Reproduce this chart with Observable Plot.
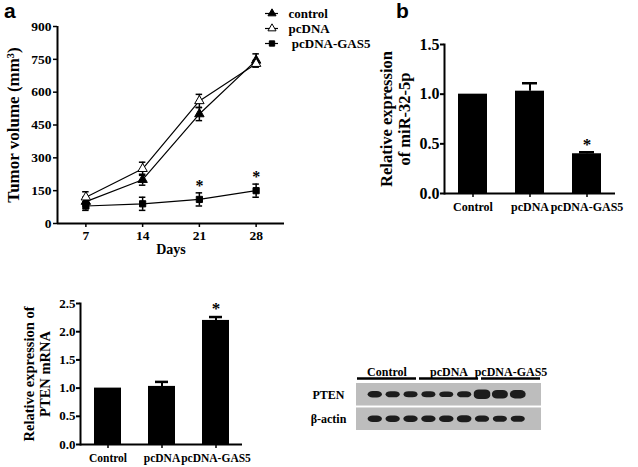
<!DOCTYPE html>
<html><head><meta charset="utf-8">
<script src="https://cdn.jsdelivr.net/npm/d3@7"></script>
<script src="https://cdn.jsdelivr.net/npm/@observablehq/plot@0.6"></script>
<style>
body{margin:0;background:#fff;}
#fig{position:relative;width:638px;height:467px;overflow:hidden;background:#fff;}
#fig svg{position:absolute;left:0;top:0;}
.panel{position:absolute;font-family:"Liberation Sans",Arial,sans-serif;font-weight:bold;font-size:21px;line-height:1;}
</style></head><body>
<div id="fig"><div class="panel" style="left:4px;top:0px">a</div><div class="panel" style="left:396px;top:0px">b</div></div>
<script>
// ---------- data ----------
const days = [7, 14, 21, 28];
const series = ["control", "pcDNA", "pcDNA-GAS5"];
const controlVol = [100, 200, 500, 745];
const controlErr = [20, 25, 30, 30];
const pcdnaVol = [120, 250, 560, 730];
const pcdnaErr = [25, 30, 30, 15];
const gas5Vol = [80, 90, 110, 150];
const gas5Err = [20, 30, 30, 30];
const volTicks = [0, 150, 300, 450, 600, 750, 900];
const starDays = [21, 28];

const categories = ["Control", "pcDNA", "pcDNA-GAS5"];
const mirValues = [1.0, 1.03, 0.40];
const mirErrors = [0, 0.08, 0.015];
const mirTicks = [0, 0.5, 1.0, 1.5];
const mirStar = ["pcDNA-GAS5"];

const ptenValues = [1.0, 1.03, 2.20];
const ptenErrors = [0, 0.08, 0.06];
const ptenTicks = [0, 0.5, 1.0, 1.5, 2.0, 2.5];
const ptenStar = ["pcDNA-GAS5"];

const blotRows = ["PTEN", "β-actin"];
const blotGroups = ["Control", "pcDNA", "pcDNA-GAS5"];
const ptenBand = [1.0, 0.97, 0.92, 0.92, 0.9, 0.97, 1.5, 1.35, 1.3];
const actinBand = [1.0, 1.0, 1.0, 1.0, 1.05, 1.08, 0.98, 0.95, 0.95];

// ---------- helpers ----------
const W = 638, H = 467;
const fig = document.getElementById("fig");
const base = {
  width: W, height: H,
  style: {background: "transparent", fontFamily: '"Liberation Serif", "Times New Roman", serif', fontWeight: "bold", color: "black", overflow: "visible"}
};
function place(p) { fig.appendChild(p); }

// ---------- panel a ----------
const rowsA = [];
[[controlVol, controlErr], [pcdnaVol, pcdnaErr], [gas5Vol, gas5Err]].forEach(([v, e], si) =>
  days.forEach((d, i) => rowsA.push({series: series[si], day: d, v: v[i], e: e[i]})));
const xDomA = [3.5, 31.5];
const symbolScale = {domain: series, range: ["triangle", "triangle", "square"]};

place(Plot.plot({
  ...base,
  marginLeft: 57, marginTop: 26, marginRight: W - 284, marginBottom: H - 223,
  x: {domain: xDomA}, y: {domain: [0, 900]},
  symbol: symbolScale,
  marks: [
    Plot.ruleX([xDomA[0]], {y1: 0, y2: 900, strokeWidth: 2}),
    Plot.ruleY([0], {x1: xDomA[0], x2: xDomA[1], strokeWidth: 2}),
    Plot.axisY({ticks: volTicks, tickSize: 4, tickPadding: 2, fontSize: 13.5, label: null, strokeWidth: 1.5}),
    Plot.axisX({ticks: days, tickSize: 4, tickPadding: 3, fontSize: 13.5, label: null, strokeWidth: 1.5}),
    Plot.lineY(rowsA, {x: "day", y: "v", z: "series", stroke: "black", strokeWidth: 1.2}),
    Plot.ruleX(rowsA, {x: "day", y1: d => d.v - d.e, y2: d => d.v + d.e, strokeWidth: 1.5}),
    Plot.ruleY(rowsA, {y: d => d.v + d.e, x1: d => d.day - 0.4, x2: d => d.day + 0.4, strokeWidth: 1.5}),
    Plot.ruleY(rowsA, {y: d => d.v - d.e, x1: d => d.day - 0.4, x2: d => d.day + 0.4, strokeWidth: 1.5}),
    Plot.dot(rowsA, {x: "day", y: "v", symbol: "series", r: 3.5, fill: d => d.series === "pcDNA" ? "white" : "black", stroke: "black", strokeWidth: 1}),
    Plot.text(rowsA.filter(d => d.series === "pcDNA-GAS5" && starDays.includes(d.day)), {x: "day", y: d => d.v + d.e, text: () => "*", dy: -7, fontSize: 16}),
    Plot.text(["Tumor volume (mm³)"], {frameAnchor: "left", textAnchor: "middle", rotate: -90, dx: -44, fontSize: 17}),
    Plot.text(["Days"], {frameAnchor: "bottom", dy: 30, fontSize: 14})
  ]
}));

// legend for panel a
place(Plot.plot({
  ...base,
  margin: 0,
  x: {domain: [0, 1], range: [265, 278], axis: null},
  y: {type: "point", domain: series, range: [13, 43], padding: 0, axis: null},
  symbol: symbolScale,
  marks: [
    Plot.ruleY(series, {y: d => d, x1: 0, x2: 1, strokeWidth: 1.2}),
    Plot.dot(series, {x: () => 0.5, y: d => d, symbol: d => d, r: 3, fill: d => d === "pcDNA" ? "white" : "black", stroke: "black", strokeWidth: 1}),
    Plot.text(series, {x: () => 1, y: d => d, text: d => d === "pcDNA-GAS5" ? "\u00a0" + d : d, dx: 10, textAnchor: "start", fontSize: 13})
  ]
}));

// ---------- bar panels ----------
function barPanel({values, errors, ticks, stars, left, right, top, bottom, tickFont, catFont, labelFont, label, labelDx}) {
  const rows = categories.map((c, i) => ({cat: c, v: values[i], e: errors[i]}));
  const withErr = rows.filter(d => d.e > 0);
  const yMax = ticks[ticks.length - 1];
  return Plot.plot({
    ...base,
    marginLeft: left, marginRight: W - right, marginTop: top, marginBottom: H - bottom,
    x: {type: "band", domain: categories, paddingInner: 0.5, paddingOuter: 0.25},
    y: {domain: [0, yMax]},
    marks: [
      Plot.barY(rows, {x: "cat", y: "v", fill: "black"}),
      Plot.ruleX(withErr, {x: "cat", y1: "v", y2: d => d.v + d.e, strokeWidth: 2}),
      Plot.tickY(withErr, {x: "cat", y: d => d.v + d.e, strokeWidth: 2.5, insetLeft: 7, insetRight: 7}),
      Plot.frame({anchor: "left", strokeWidth: 2}),
      Plot.ruleY([0], {strokeWidth: 2}),
      Plot.axisY({ticks, tickFormat: d3.format(".1f"), tickSize: 4, tickPadding: 1, fontSize: tickFont, label: null, strokeWidth: 2}),
      Plot.axisX({tickSize: 4, tickPadding: 5, fontSize: catFont, label: null, strokeWidth: 1.5}),
      Plot.text(rows.filter(d => stars.includes(d.cat)), {x: "cat", y: d => d.v + d.e, text: () => "*", dy: -8, fontSize: 17}),
      Plot.text([label], {frameAnchor: "left", textAnchor: "middle", rotate: -90, dx: labelDx, fontSize: labelFont, lineHeight: 1.1})
    ]
  });
}

place(barPanel({
  values: mirValues, errors: mirErrors, ticks: mirTicks, stars: mirStar,
  left: 444, right: 615, top: 44, bottom: 193,
  tickFont: 16, catFont: 12, labelFont: 16.5,
  label: "Relative expression\nof miR-32-5p", labelDx: -49
}));

place(barPanel({
  values: ptenValues, errors: ptenErrors, ticks: ptenTicks, stars: ptenStar,
  left: 80, right: 242, top: 303, bottom: 444,
  tickFont: 13, catFont: 11.5, labelFont: 14.5,
  label: "Relative expression of\nPTEN mRNA", labelDx: -44
}));

// ---------- western blot ----------
const bands = [];
ptenBand.forEach((lv, i) => bands.push({row: 0, lane: i, level: lv}));
actinBand.forEach((lv, i) => bands.push({row: 1, lane: i, level: lv}));
const xDomBlot = [-1.05, 9.3];
const halfW = d => 0.28 + 0.12 * d.level;

place(Plot.plot({
  ...base,
  marginLeft: 356, marginRight: W - 541, marginTop: 383, marginBottom: H - 430,
  x: {domain: xDomBlot, axis: null},
  y: {domain: [-0.46, 1.46], reverse: true, axis: null},
  marks: [
    Plot.rect(blotRows, {x1: xDomBlot[0], x2: xDomBlot[1], y1: (d, i) => i - 0.46, y2: (d, i) => i + 0.46, fill: "#bdbdbd"}),
    Plot.rect(bands, {x1: d => d.lane - halfW(d), x2: d => d.lane + halfW(d), y1: d => d.row - 0.13 * d.level, y2: d => d.row + 0.13 * d.level, fill: "#1c1c1c", rx: 5, ry: 3.5, imageFilter: "blur(0.4px)"}),
    Plot.text(blotRows, {y: (d, i) => i, frameAnchor: "left", dx: -28, textAnchor: "middle", fontSize: 12})
  ]
}));

place(Plot.plot({
  ...base,
  marginLeft: 356, marginRight: W - 541, marginTop: 360, marginBottom: H - 378,
  x: {type: "band", domain: blotGroups, paddingInner: 0.05, paddingOuter: 0, axis: null},
  y: {domain: [0, 1], axis: null},
  marks: [
    Plot.tickY(blotGroups, {x: d => d, y: () => 0, strokeWidth: 2.5}),
    Plot.text(blotGroups, {x: d => d, frameAnchor: "top", dy: 7, fontSize: 12})
  ]
}));
</script>
</body></html>
